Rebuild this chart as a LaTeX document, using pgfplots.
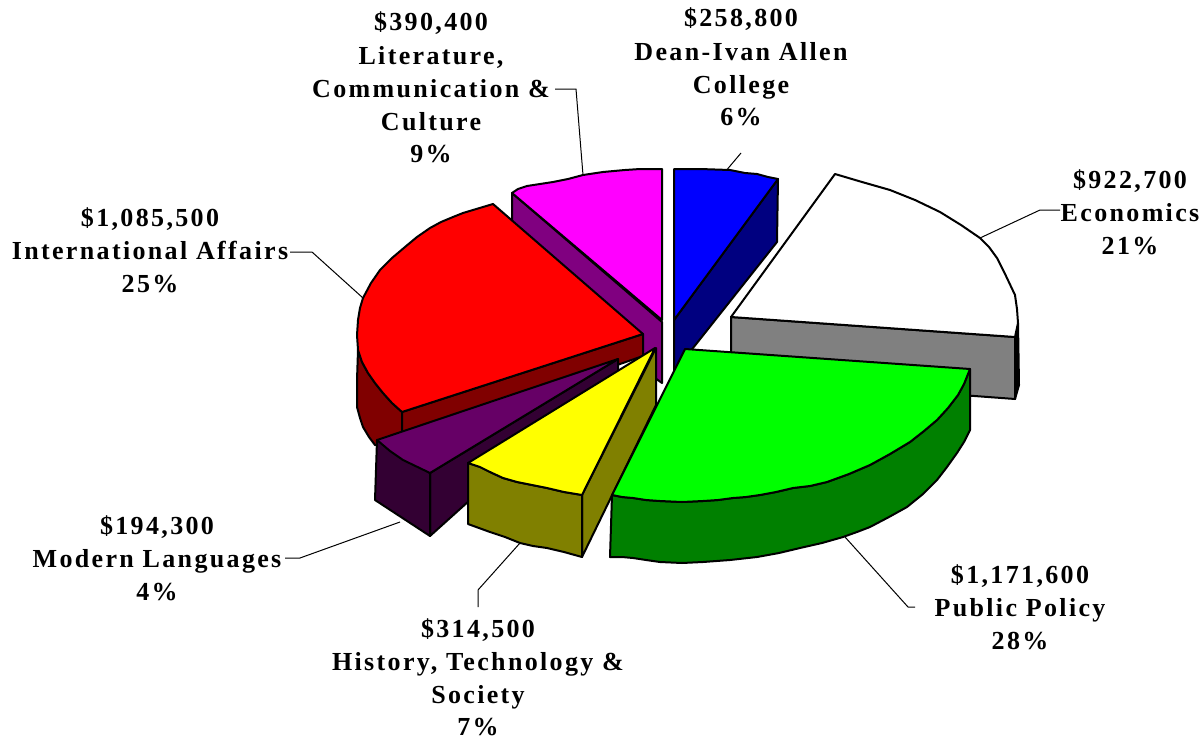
\documentclass[border=0pt]{standalone}
\usepackage{pgfplots}
\pgfplotsset{compat=1.18}
\usepackage{fontspec}
\setmainfont[LetterSpace=9]{Liberation Serif}
\definecolor{cMag}{HTML}{FF00FF}\definecolor{cMagS}{HTML}{800080}
\definecolor{cRed}{HTML}{FF0000}\definecolor{cRedS}{HTML}{800000}
\definecolor{cPur}{HTML}{660066}\definecolor{cPurS}{HTML}{330033}
\definecolor{cYel}{HTML}{FFFF00}\definecolor{cYelS}{HTML}{808000}
\definecolor{cGre}{HTML}{00FF00}\definecolor{cGreS}{HTML}{008000}
\definecolor{cBlu}{HTML}{0000FF}\definecolor{cBluS}{HTML}{000080}
\definecolor{cGry}{HTML}{808080}
\newcommand{\lbl}[3]{\node[anchor=base,inner sep=0pt,font=\fontsize{26}{30}\selectfont\bfseries] at (axis cs:#1,#2) {#3};}
\begin{document}
\begin{tikzpicture}
\useasboundingbox (0,0) rectangle (1203pt,739pt);
\begin{axis}[scale only axis,width=1203pt,height=739pt,xmin=0,xmax=1203,ymin=0,ymax=739,y dir=reverse,hide axis,clip=false,
  pie/.style={draw=black,line width=2pt,line join=round}, lead/.style={draw=black,line width=1pt,mark=none}]
% leader lines
\addplot[lead] coordinates {(741,153)(725,172)};
\addplot[lead] coordinates {(555,89)(576,89)(583,175)};
\addplot[lead] coordinates {(1060,210)(1040,210)(980,238)};
\addplot[lead] coordinates {(290,252)(312,252)(363,298)};
\addplot[lead] coordinates {(285,558)(300,558)(400,522)};
\addplot[lead] coordinates {(478,607)(478,590)(520,543)};
\addplot[lead] coordinates {(915,607)(908,607)(845,537)};
% economics
\addplot[pie,fill=black] coordinates {(1015,337)(1018,323)(1019,385)(1015,399)} -- cycle;
\addplot[pie,fill=cGry] coordinates {(731,317)(1015,337)(1015,399)(731,378)} -- cycle;
\addplot[pie,fill=white] coordinates {(835,174)(862,182)(890,190)(915,200)(940,212)(961,225)(980,238)(989,247)(997,258)(1006,276)(1015,295)(1017,309)(1018,323)(1015,337)(731,317)} -- cycle;
% dean
\addplot[pie,fill=cBluS] coordinates {(778,179)(674,320)(674,372)(777,242)} -- cycle;
\addplot[pie,fill=cBlu] coordinates {(674,169)(700,169)(730,170)(745,173)(757,174)(768,177)(778,179)(674,320)} -- cycle;
% literature
\addplot[pie,fill=cMagS] coordinates {(512,193)(662,322)(662,383)(655,378)(512,225)} -- cycle;
\addplot[pie,fill=cMag] coordinates {(662,169)(640,169)(625,170)(603,172)(583,175)(568,179)(553,182)(540,184)(527,186)(518,189)(512,193)(662,320)} -- cycle;
% international
\addplot[pie,fill=cRedS] coordinates {(358,350)(357,380)(357,407)(360,418)(363,427)(369,437)(375,445)(402,450)(402,412)(392,403)(383,393)(375,383)(368,373)(362,362)} -- cycle;
\addplot[pie,fill=cRedS] coordinates {(402,412)(643,334)(643,356)(402,440)} -- cycle;
\addplot[pie,fill=cRed] coordinates {(493,204)(643,334)(402,412)(392,403)(383,393)(375,383)(368,373)(362,362)(358,350)(357,335)(358,320)(360,308)(363,298)(371,283)(380,270)(392,258)(405,247)(417,237)(430,228)(441,222)(453,217)(463,213)(473,210)} -- cycle;
% modern languages
\addplot[pie,fill=cPurS] coordinates {(430,473)(618,359)(618,372)(470,500)(430,536)} -- cycle;
\addplot[pie,fill=cPurS] coordinates {(377,440)(430,473)(430,536)(375,500)} -- cycle;
\addplot[pie,fill=cPur] coordinates {(618,359)(377,440)(390,451)(403,460)(430,473)} -- cycle;
% history
\addplot[pie,fill=cYelS] coordinates {(582,495)(656,348)(656,405)(582,557)} -- cycle;
\addplot[pie,fill=cYelS] coordinates {(468,463)(480,467)(490,472)(503,478)(517,482)(532,485)(547,488)(564,492)(582,495)(582,557)(564,552)(547,548)(533,546)(520,543)(505,537)(490,532)(479,528)(468,524)} -- cycle;
\addplot[pie,fill=cYel] coordinates {(655,348)(468,463)(480,467)(490,472)(503,478)(517,482)(532,485)(547,488)(564,492)(582,495)} -- cycle;
% public policy
\addplot[pie,fill=cGreS] coordinates {(612,495)(622,497)(633,498)(646,500)(660,501)(682,502)(703,501)(718,500)(733,498)(746,497)(760,495)(776,492)(793,488)(810,486)(827,482)(849,474)(870,465)(890,454)(910,442)(924,431)(937,420)(948,408)(958,395)(964,384)(970,369)(970,430)(964,442)(957,453)(947,467)(937,480)(923,494)(907,507)(889,517)(870,527)(857,532)(843,537)(822,543)(800,548)(779,553)(757,557)(730,560)(703,562)(682,563)(660,562)(646,560)(633,558)(622,557)(610,557)} -- cycle;
\addplot[pie,fill=cGre] coordinates {(685,349)(970,369)(964,384)(958,395)(948,408)(937,420)(924,431)(910,442)(890,454)(870,465)(849,474)(827,482)(810,486)(793,488)(776,492)(760,495)(746,497)(733,498)(718,500)(703,501)(682,502)(660,501)(646,500)(633,498)(622,497)(612,495)} -- cycle;
% labels
\lbl{741}{26}{\$258,800}
\lbl{741}{60}{Dean-Ivan Allen}
\lbl{741}{93}{College}
\lbl{741}{125}{6\%}
\lbl{431}{30}{\$390,400}
\lbl{431}{64}{Literature,}
\lbl{431}{97}{Communication \&}
\lbl{431}{130}{Culture}
\lbl{431}{162}{9\%}
\lbl{1130}{188}{\$922,700}
\lbl{1130}{221}{Economics}
\lbl{1130}{254}{21\%}
\lbl{1020}{583}{\$1,171,600}
\lbl{1020}{616}{Public Policy}
\lbl{1020}{649}{28\%}
\lbl{478}{637}{\$314,500}
\lbl{478}{670}{History, Technology \&}
\lbl{478}{703}{Society}
\lbl{478}{735}{7\%}
\lbl{157}{534}{\$194,300}
\lbl{157}{567}{Modern Languages}
\lbl{157}{600}{4\%}
\lbl{150}{226}{\$1,085,500}
\lbl{150}{259}{International Affairs}
\lbl{150}{292}{25\%}
\end{axis}
\end{tikzpicture}
\end{document}
